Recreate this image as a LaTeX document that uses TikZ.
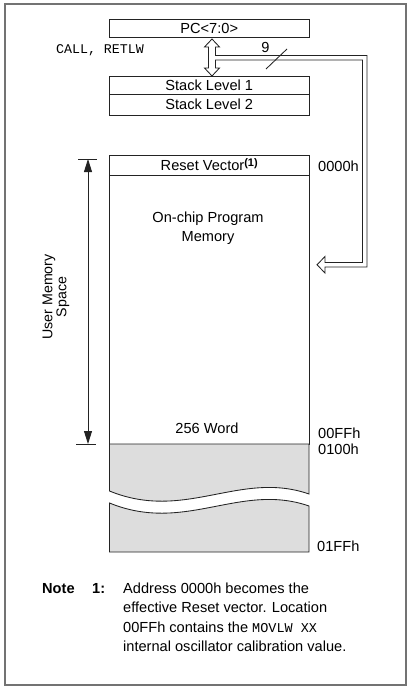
\documentclass[tikz,border=0pt]{standalone}
\usepackage{fontspec}
\setmainfont{Liberation Sans}
\setmonofont{Liberation Mono}
\usetikzlibrary{arrows.meta}
\definecolor{memgray}{RGB}{221,221,221}
\definecolor{linec}{RGB}{35,35,35}
\begin{document}
\begin{tikzpicture}[x=1pt,y=-1pt,
  every node/.style={font=\fontsize{14.6}{17}\selectfont, text=black},
  box/.style={draw=linec, line width=0.85pt, inner sep=0pt, minimum width=199.5pt},
  lbl/.style={inner sep=0pt, anchor=west},
  mono/.style={font=\ttfamily\fontsize{13.3}{16}\selectfont},
  ln/.style={draw=linec, line width=0.85pt},
  noteline/.style={anchor=base west, inner sep=0pt}]
\useasboundingbox (0,0) rectangle (412,690);
\draw[draw=black!55, line width=1.3pt] (5,4) rectangle (406,685);

% stack area
\node[box, minimum height=18pt] (pc) at (209.25,28) {PC<7:0>};
\node[mono] (call) at (100,50) {CALL, RETLW};
\node[box, minimum height=18pt] (s1) at (209.25,85) {Stack Level 1};
\node[box, minimum height=21.5pt] (s2) at (209.25,104.75) {Stack Level 2};

% hollow arrow
\draw[ln, fill=white]
  (212,39) -- (219.5,47) -- (215.5,47) -- (215.5,55.5) -- (367,55.5) -- (367,267)
  -- (325,267) -- (325,273) -- (317,264.75) -- (325,256.5) -- (325,262.5)
  -- (362.5,262.5) -- (362.5,60) -- (215.5,60) -- (215.5,68) -- (219.5,68)
  -- (212,76) -- (204.5,68) -- (208.5,68) -- (208.5,47) -- (204.5,47) -- cycle;
\coordinate (sla) at (266,69);
\coordinate (slb) at (287,49);
\draw[ln] (sla) -- (slb);
\node (nine) at (265.5,47) {9};

% memory
\node[box, minimum height=289pt] (mem) at (209.25,299.5) {};
\node[box, minimum height=20pt] (reset) at (209.25,165)
  {Reset Vector\raisebox{4pt}{\bfseries\fontsize{11}{12}\selectfont(1)}};
\node[align=center, font=\fontsize{14.6}{19}\selectfont] (onchip) at (208,228.5) {On-chip Program\\Memory};
\node (word) at (207,428) {256 Word};
\draw[ln, fill=memgray] (109.5,491) -- (109.5,444) -- (309,444) -- (309,494)
  .. controls (240,470) and (185,522) .. (109.5,491) -- cycle;
\draw[ln, fill=memgray] (109.5,503) .. controls (185,534) and (240,482) .. (309,506)
  -- (309,552) -- (109.5,552) -- cycle;

\node[lbl] (a0) at (318,166) {0000h};
\node[lbl] (a1) at (318,433) {00FFh};
\node[lbl] (a2) at (318,449) {0100h};
\node[lbl] (a3) at (317,546) {01FFh};

% user memory space
\coordinate (umt) at (88,159);
\coordinate (umb) at (88,444);
\coordinate (tk1a) at (78,159);
\coordinate (tk1b) at (97,159);
\coordinate (tk2a) at (76,444);
\coordinate (tk2b) at (96,444);
\draw[ln, {Triangle[length=13pt,width=8pt]}-{Triangle[length=13pt,width=8pt]}] (umt) -- (umb);
\draw[ln] (tk1a) -- (tk1b);
\draw[ln] (tk2a) -- (tk2b);
\node[rotate=90, align=center, font=\fontsize{14.2}{12}\selectfont] (uml) at (56,297) {User Memory\\Space};

% note
\node[noteline, font=\bfseries\fontsize{14.6}{17}\selectfont] (note) at (42,593) {Note};
\node[noteline, font=\bfseries\fontsize{14.6}{17}\selectfont] (num) at (92,593) {1:};
\node[noteline] (l1) at (123,593) {Address 0000h becomes the};
\node[noteline] (l2) at (123,612.5) {effective Reset vector. Location};
\node[noteline] (l3) at (123,632) {00FFh contains the {\ttfamily\fontsize{13.5}{16}\selectfont MOVLW XX}};
\node[noteline] (l4) at (123,651.5) {internal oscillator calibration value.};
\end{tikzpicture}
\end{document}
